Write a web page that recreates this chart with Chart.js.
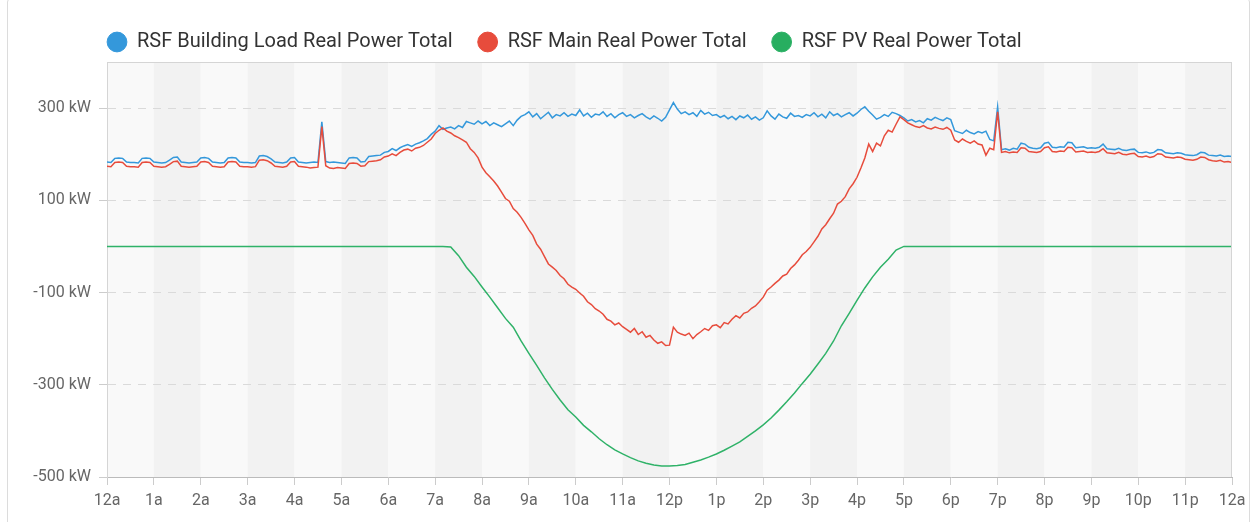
<!DOCTYPE html>
<html>
<head>
<meta charset="utf-8">
<script src="https://cdn.jsdelivr.net/npm/chart.js@4.4.1/dist/chart.umd.min.js"></script>
<style>
  html, body { margin: 0; padding: 0; background: #fff; }
  #card { position: absolute; left: 7px; top: -2px; width: 1241px; height: 530px; border: 1px solid #dcdcdc; border-radius: 4px; }
  #wrap { position: absolute; left: 0; top: 0; width: 1257px; height: 522px; }
</style>
</head>
<body>
<div id="card"></div>
<div id="wrap"><canvas id="powerChart"></canvas></div>
<script>
// x axis labels, one per hour (0..24)
const hourLabels = ['12a', '1a', '2a', '3a', '4a', '5a', '6a', '7a', '8a', '9a', '10a', '11a',
    '12p', '1p', '2p', '3p', '4p', '5p', '6p', '7p', '8p', '9p', '10p', '11p', '12a'];
const yTickValues = [-500, -300, -100, 100, 300];

// 5 minute readings, kW (12 per hour + closing value)
const buildingLoad = [
    183, 182, 191, 192, 191, 183, 182, 182, 181, 191, 192, 191,
    183, 182, 181, 182, 187, 193, 194, 183, 182, 181, 182, 183,
    192, 193, 191, 183, 182, 181, 182, 192, 193, 192, 183, 182,
    182, 181, 182, 196, 197, 195, 190, 183, 182, 181, 183, 192,
    193, 183, 182, 181, 182, 183, 182, 270, 184, 182, 183, 182,
    181, 180, 192, 193, 192, 183, 184, 195, 196, 197, 198, 204,
    206, 212, 208, 214, 218, 221, 217, 222, 225, 229, 234, 243,
    250, 262, 254, 257, 259, 255, 262, 258, 271, 268, 265, 272,
    266, 271, 262, 268, 264, 260, 266, 272, 262, 274, 282, 286,
    292, 281, 288, 277, 284, 291, 279, 286, 283, 290, 282, 287,
    284, 296, 283, 289, 280, 287, 285, 292, 282, 288, 279, 286,
    290, 282, 286, 279, 284, 288, 281, 276, 283, 278, 272, 280,
    296, 312, 298, 288, 292, 286, 290, 282, 295, 287, 291, 284,
    286, 280, 284, 277, 282, 275, 283, 279, 285, 276, 281, 274,
    279, 294, 283, 276, 287, 281, 278, 289, 282, 284, 280, 286,
    283, 290, 281, 287, 279, 292, 284, 288, 281, 286, 290, 283,
    289, 297, 303, 293, 285, 276, 280, 286, 282, 291, 288, 284,
    279, 272, 275, 270, 273, 268, 277, 274, 280, 276, 273, 279,
    275, 251, 248, 245, 252, 247, 244, 249, 246, 250, 232, 229,
    303, 210, 212, 209, 213, 211, 224, 222, 215, 213, 212, 214,
    224, 226, 215, 214, 216, 215, 226, 225, 214, 215, 216, 213,
    214, 213, 215, 222, 212, 211, 210, 213, 209, 208, 210, 211,
    204, 203, 205, 202, 204, 210, 209, 203, 202, 201, 203, 202,
    199, 198, 197, 199, 204, 203, 198, 197, 196, 198, 195, 196,
    195
];

const mainPower = [
    174, 173, 182, 183, 182, 174, 173, 173, 172, 182, 183, 182,
    174, 173, 172, 173, 178, 184, 185, 174, 173, 172, 173, 174,
    183, 184, 182, 174, 173, 172, 173, 183, 184, 183, 174, 173,
    173, 172, 173, 187, 188, 186, 181, 174, 173, 172, 174, 183,
    184, 174, 173, 172, 170, 171, 172, 260, 175, 170, 169, 171,
    170, 169, 180, 181, 180, 174, 175, 184, 185, 186, 188, 194,
    196, 201, 197, 204, 209, 211, 207, 213, 215, 219, 226, 233,
    245, 252, 257, 250, 246, 240, 236, 231, 226, 212, 204, 192,
    172, 160, 151, 142, 131, 118, 104, 98, 82, 74, 63, 50,
    36, 24, 5, -6, -22, -38, -45, -52, -63, -70, -82, -88,
    -93, -101, -108, -120, -126, -135, -140, -147, -158, -162, -170, -166,
    -174, -180, -186, -178, -191, -185, -197, -193, -203, -210, -207, -215,
    -214, -175, -186, -190, -193, -188, -200, -191, -185, -178, -182, -172,
    -170, -176, -165, -168, -158, -150, -155, -145, -142, -134, -129, -120,
    -110, -95, -88, -80, -73, -64, -60, -48, -40, -30, -18, -11,
    -2, 10, 22, 38, 47, 60, 72, 92, 98, 108, 125, 136,
    150, 170, 192, 222, 206, 224, 218, 240, 252, 248, 265, 281,
    275, 268, 264, 260, 258, 262, 257, 255, 259, 256, 254, 258,
    252, 231, 226, 233, 228, 224, 229, 222, 220, 198, 213, 210,
    292, 204, 206, 203, 205, 204, 214, 213, 206, 205, 204, 206,
    214, 216, 206, 205, 207, 206, 215, 214, 205, 206, 207, 204,
    205, 204, 206, 212, 203, 202, 201, 204, 200, 199, 201, 202,
    195, 194, 196, 193, 195, 201, 200, 194, 193, 192, 194, 193,
    189, 188, 187, 189, 194, 193, 188, 186, 185, 187, 183, 184,
    182
];

// 10 minute readings, kW (6 per hour + closing value)
const pvPower = [
    0, 0, 0, 0, 0, 0,
    0, 0, 0, 0, 0, 0,
    0, 0, 0, 0, 0, 0,
    0, 0, 0, 0, 0, 0,
    0, 0, 0, 0, 0, 0,
    0, 0, 0, 0, 0, 0,
    0, 0, 0, 0, 0, 0,
    0, 0, -1, -20, -45, -65,
    -88, -110, -133, -156, -175, -205,
    -232, -258, -285, -310, -333, -354,
    -370, -388, -402, -417, -430, -441,
    -450, -458, -465, -470, -474, -476,
    -476, -475, -473, -468, -463, -457,
    -450, -442, -433, -424, -412, -400,
    -387, -372, -355, -337, -318, -297,
    -277, -255, -232, -205, -172, -145,
    -117, -90, -66, -45, -28, -8,
    0, 0, 0, 0, 0, 0,
    0, 0, 0, 0, 0, 0,
    0, 0, 0, 0, 0, 0,
    0, 0, 0, 0, 0, 0,
    0, 0, 0, 0, 0, 0,
    0, 0, 0, 0, 0, 0,
    0, 0, 0, 0, 0, 0,
    0
];

function toPoints(values, minutesPerStep) {
    return values.map((v, i) => ({ x: i * minutesPerStep / 60, y: v }));
}

// hour bands behind the plot + frame round the plot area
const hourBands = {
    id: 'hourBands',
    beforeDraw(chart) {
        const { ctx, chartArea, scales } = chart;
        ctx.save();
        for (let h = 0; h < 24; h++) {
            const x0 = scales.x.getPixelForValue(h);
            const x1 = scales.x.getPixelForValue(h + 1);
            ctx.fillStyle = h % 2 ? '#f2f2f2' : '#f9f9f9';
            ctx.fillRect(x0, chartArea.top, x1 - x0, chartArea.bottom - chartArea.top);
        }
        ctx.restore();
    },
    afterDraw(chart) {
        const { ctx, chartArea } = chart;
        ctx.save();
        ctx.strokeStyle = '#d5d5d5';
        ctx.lineWidth = 1;
        ctx.beginPath();
        ctx.moveTo(chartArea.left, chartArea.top + 0.5);
        ctx.lineTo(chartArea.right, chartArea.top + 0.5);
        ctx.moveTo(chartArea.right - 0.5, chartArea.top);
        ctx.lineTo(chartArea.right - 0.5, chartArea.bottom);
        ctx.stroke();
        ctx.restore();
    }
};

// legend starts at the left edge of the plot, not at the canvas edge
const legendShift = {
    id: 'legendShift',
    afterLayout(chart) {
        const legend = chart.legend;
        const pad = legend.options.labels.padding;
        const w = legend.right - legend.left;
        legend.left = chart.chartArea.left - pad;
        legend.right = legend.left + w;
    }
};

Chart.defaults.font.family = 'Roboto, "Noto Sans", sans-serif';

new Chart(document.getElementById('powerChart'), {
    type: 'line',
    data: {
        datasets: [
            {
                label: 'RSF Building Load Real Power Total',
                data: toPoints(buildingLoad, 5),
                borderColor: '#3498db',
                backgroundColor: '#3498db',
                order: 2
            },
            {
                label: 'RSF Main Real Power Total',
                data: toPoints(mainPower, 5),
                borderColor: '#e74c3c',
                backgroundColor: '#e74c3c',
                order: 1
            },
            {
                label: 'RSF PV Real Power Total',
                data: toPoints(pvPower, 10),
                borderColor: '#2fb268',
                backgroundColor: '#27ae60',
                order: 3
            }
        ]
    },
    options: {
        responsive: true,
        maintainAspectRatio: false,
        animation: false,
        layout: { padding: { left: 10, right: 25, top: 7, bottom: 0 } },
        elements: {
            point: { radius: 0 },
            line: { borderWidth: 1.5, tension: 0 }
        },
        plugins: {
            tooltip: { enabled: false },
            legend: {
                position: 'top',
                align: 'start',
                maxHeight: 55,
                labels: {
                    usePointStyle: true,
                    pointStyle: 'circle',
                    boxWidth: 20,
                    boxHeight: 14,
                    padding: 25,
                    color: '#333',
                    font: { size: 20 },
                    sort: (a, b) => a.datasetIndex - b.datasetIndex
                }
            }
        },
        scales: {
            x: {
                type: 'linear',
                min: 0,
                max: 24,
                afterFit: (scale) => { scale.height = 45; },
                ticks: {
                    stepSize: 1,
                    autoSkip: false,
                    maxRotation: 0,
                    color: '#666',
                    font: { size: 16 },
                    padding: 6,
                    callback: (value) => hourLabels[value]
                },
                grid: {
                    drawOnChartArea: false,
                    tickLength: 8,
                    color: '#ccc'
                },
                border: { color: '#bbb' }
            },
            y: {
                min: -500,
                max: 400,
                afterBuildTicks: (scale) => {
                    scale.ticks = yTickValues.map(v => ({ value: v }));
                },
                afterFit: (scale) => { scale.width = 97; },
                ticks: {
                    color: '#666',
                    font: { size: 16 },
                    padding: 8,
                    callback: (value) => value + ' kW'
                },
                grid: {
                    color: (c) => (c.tick && c.tick.value === -500) ? 'rgba(0,0,0,0)' : '#dadada',
                    tickColor: '#ccc',
                    tickLength: 8
                },
                border: { color: '#d5d5d5', dash: [8, 7] }
            }
        }
    },
    plugins: [hourBands, legendShift]
});
</script>
</body>
</html>
